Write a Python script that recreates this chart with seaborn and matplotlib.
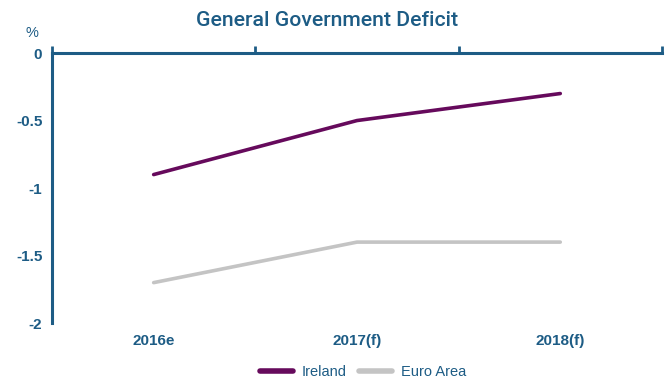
import matplotlib
matplotlib.use("Agg")
import matplotlib.pyplot as plt
import seaborn as sns
import pandas as pd

categories = ["2016e", "2017(f)", "2018(f)"]
ireland = [-0.9, -0.5, -0.3]
euro_area = [-1.7, -1.4, -1.4]
series_names = ["Ireland", "Euro Area"]
y_ticks = [0, -0.5, -1, -1.5, -2]
y_tick_labels = ["0", "-0.5", "-1", "-1.5", "-2"]

df = pd.DataFrame({
    "year": categories * 2,
    "value": ireland + euro_area,
    "series": [series_names[0]] * 3 + [series_names[1]] * 3,
})

sns.set_style("white")
plt.rcParams["font.family"] = ["Liberation Sans", "DejaVu Sans"]

blue = "#1d5c85"
fig = plt.figure(figsize=(6.72, 3.87), dpi=100)
ax = fig.add_axes([0.0774, 0.165, 0.9076, 0.698])

sns.lineplot(data=df, x="year", y="value", hue="series",
             palette={"Ireland": "#660a5c", "Euro Area": "#c4c4c4"},
             linewidth=2.6, ax=ax, sort=False)

ax.set_xlim(-0.5, 2.5)
ax.set_ylim(-2, 0)
ax.set_yticks(y_ticks)
ax.set_yticklabels(y_tick_labels)
ax.set_xlabel("")
ax.set_ylabel("")

for s in ["right", "bottom"]:
    ax.spines[s].set_visible(False)
for s in ["left", "top"]:
    ax.spines[s].set_color(blue)
    ax.spines[s].set_linewidth(2.2)

ax.tick_params(axis="y", colors=blue, direction="out", length=4, width=2,
               labelsize=11, pad=3)
ax.tick_params(axis="x", which="major", length=0, colors=blue, labelsize=11, pad=8)
for lbl in ax.get_xticklabels() + ax.get_yticklabels():
    lbl.set_fontweight("bold")

# top boundary ticks
ax.set_xticks([-0.5, 0.5, 1.5, 2.5], minor=True)
ax.tick_params(axis="x", which="minor", top=True, bottom=False, direction="out",
               length=5, width=2, color=blue)

fig.text(0.487, 0.948, "General Government Deficit", ha="center", va="center",
         fontsize=15.3, color=blue, fontweight="medium",
         family=["Roboto", "Liberation Sans", "DejaVu Sans"])
fig.text(0.048, 0.915, "%", ha="center", va="center", fontsize=10.5, color=blue)

leg = ax.legend(loc="upper center", bbox_to_anchor=(0.51, -0.105), ncol=2,
                frameon=False, fontsize=10.5, handlelength=2.3,
                columnspacing=0.8, handletextpad=0.6)
for line in leg.get_lines():
    line.set_linewidth(4)
for t in leg.get_texts():
    t.set_color(blue)

fig.savefig("out.png", dpi=100)
